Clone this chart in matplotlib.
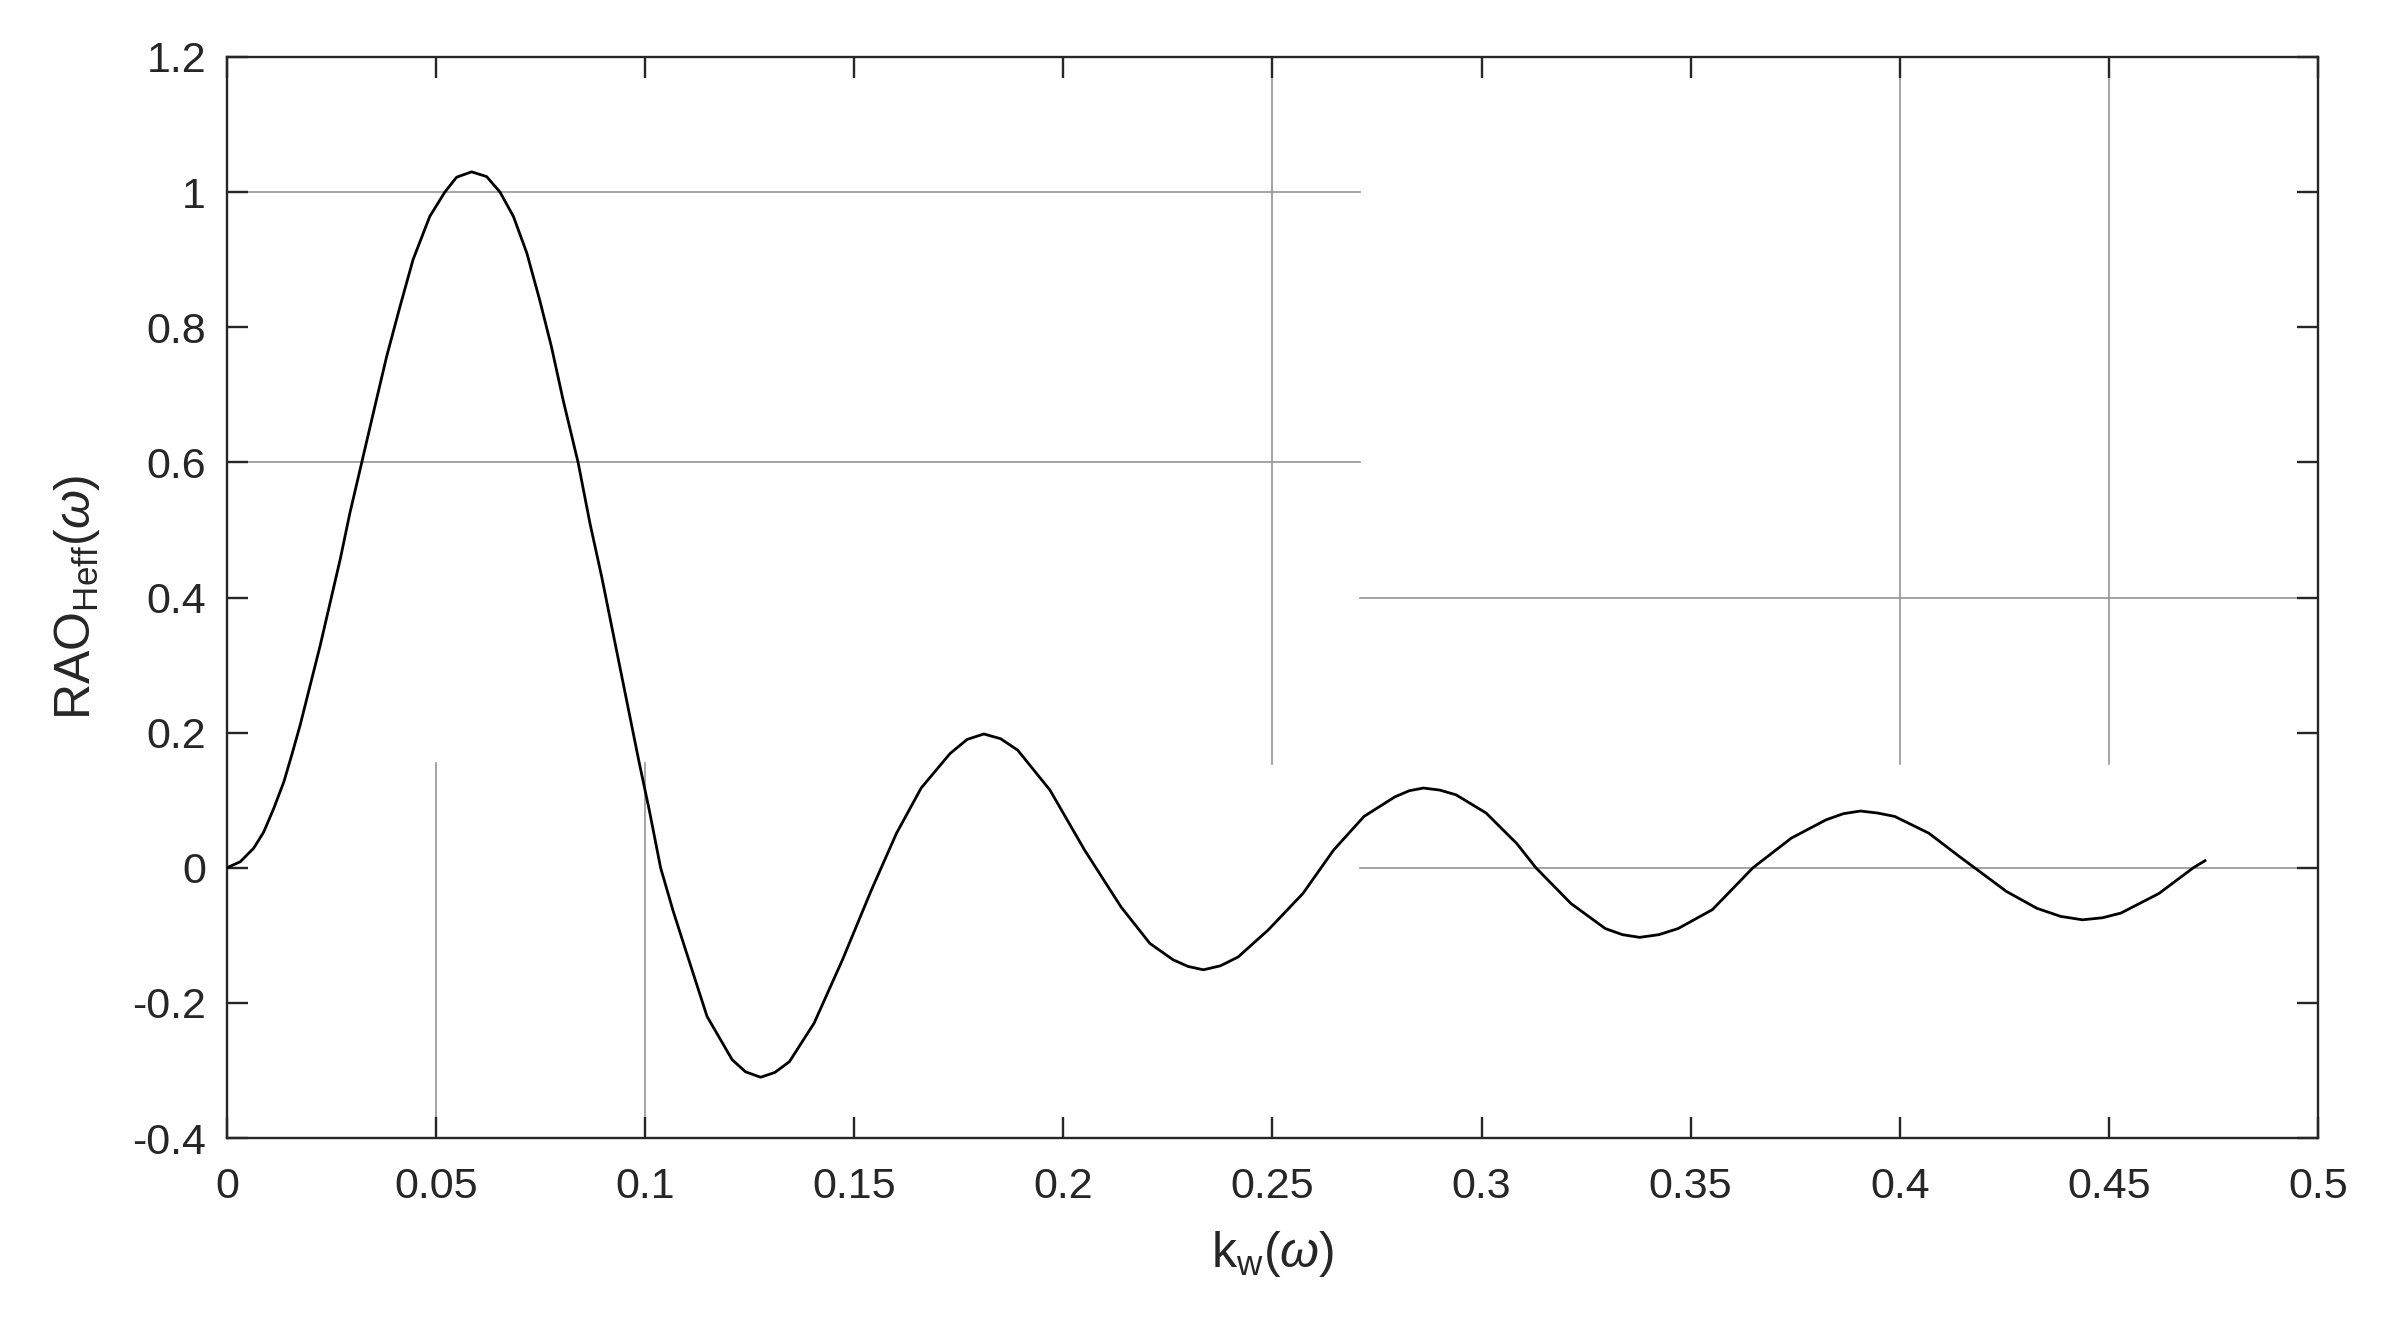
import numpy as np
import matplotlib.pyplot as plt

plt.rcParams['font.family'] = ['Liberation Sans', 'DejaVu Sans']
plt.rcParams['mathtext.fontset'] = 'custom'
plt.rcParams['mathtext.rm'] = 'Liberation Sans'
plt.rcParams['mathtext.it'] = 'Liberation Sans:italic'

# curve: k_w(omega) vs RAO_Heff(omega)
k_w = [0, 0.0032, 0.0064, 0.0088, 0.0112, 0.0136, 0.0155, 0.0175, 0.0199, 0.0223,
       0.0247, 0.0271, 0.0294, 0.0322, 0.0350, 0.0382, 0.0414, 0.0445, 0.0485, 0.0521,
       0.0549, 0.0585, 0.0621, 0.0653, 0.0685, 0.0717, 0.0748, 0.0776, 0.0804, 0.0840,
       0.0868, 0.0896, 0.0925, 0.0955, 0.0985, 0.1010, 0.1037, 0.1067, 0.1097, 0.1148,
       0.1208, 0.124, 0.1276, 0.131, 0.1345, 0.1404, 0.1472, 0.1541, 0.1601, 0.1660,
       0.1729, 0.177, 0.1810, 0.185, 0.1891, 0.1968, 0.2051, 0.2138, 0.2207, 0.2262,
       0.2298, 0.2335, 0.2376, 0.2418, 0.2490, 0.2573, 0.2646, 0.2719, 0.2793, 0.2827,
       0.2861, 0.290, 0.2939, 0.3011, 0.3084, 0.3130, 0.3214, 0.3296, 0.3337, 0.3378,
       0.3424, 0.3470, 0.3552, 0.3649, 0.3741, 0.3824, 0.3865, 0.3906, 0.3947, 0.3988,
       0.4070, 0.4144, 0.4179, 0.4255, 0.4328, 0.4385, 0.4437, 0.4485, 0.4529, 0.4620,
       0.4702, 0.4730]
rao = [0, 0.009, 0.029, 0.053, 0.088, 0.127, 0.167, 0.211, 0.270, 0.329,
       0.393, 0.457, 0.525, 0.599, 0.673, 0.757, 0.831, 0.900, 0.964, 1.0,
       1.022, 1.030, 1.023, 1.0, 0.964, 0.910, 0.840, 0.771, 0.692, 0.599,
       0.510, 0.431, 0.342, 0.250, 0.158, 0.085, 0.0, -0.064, -0.122, -0.220,
       -0.284, -0.302, -0.310, -0.303, -0.287, -0.230, -0.136, -0.033, 0.051, 0.118,
       0.169, 0.190, 0.198, 0.191, 0.174, 0.115, 0.026, -0.058, -0.112, -0.136,
       -0.146, -0.151, -0.145, -0.132, -0.092, -0.038, 0.026, 0.076, 0.105, 0.114,
       0.118, 0.115, 0.108, 0.081, 0.036, 0.0, -0.053, -0.090, -0.099, -0.103,
       -0.099, -0.090, -0.062, 0.0, 0.044, 0.071, 0.080, 0.084, 0.081, 0.076,
       0.051, 0.016, 0.0, -0.035, -0.060, -0.072, -0.077, -0.074, -0.067, -0.038,
       0.0, 0.0105]

# leftover grid pieces visible in the picture
h_grid = [(1.0, 0, 0.271), (0.6, 0, 0.271), (0.4, 0.271, 0.5), (0.0, 0.271, 0.5)]
v_grid = [(0.05, -0.4, 0.155), (0.1, -0.4, 0.155), (0.25, 0.153, 1.2),
          (0.4, 0.153, 1.2), (0.45, 0.153, 1.2)]

fig = plt.figure(figsize=(24.04, 13.19), dpi=100)
ax = fig.add_axes([0.0944, 0.1372, 0.8698, 0.8196])

for y, x1, x2 in h_grid:
    ax.plot([x1, x2], [y, y], color='#959595', lw=1.2, zorder=1)
for x, y1, y2 in v_grid:
    ax.plot([x, x], [y1, y2], color='#959595', lw=1.2, zorder=1)

ax.plot(k_w, rao, color='black', lw=2.0, zorder=3)

ax.set_xlim(0, 0.5)
ax.set_ylim(-0.4, 1.2)
ax.set_xticks(np.arange(0, 0.51, 0.05))
ax.set_xticklabels(['0', '0.05', '0.1', '0.15', '0.2', '0.25', '0.3', '0.35', '0.4', '0.45', '0.5'])
ax.set_yticks(np.arange(-0.4, 1.21, 0.2))
ax.set_yticklabels(['-0.4', '-0.2', '0', '0.2', '0.4', '0.6', '0.8', '1', '1.2'])

ax.tick_params(direction='in', length=15, width=1.7, colors='#262626',
               labelsize=31, top=True, right=True)
ax.tick_params(axis='x', pad=21)
ax.tick_params(axis='y', pad=15)
for s in ax.spines.values():
    s.set_linewidth(1.7)
    s.set_color('#262626')

ax.set_xlabel(r'k$_{\rm w}$($\it{\omega}$)', fontsize=36, color='#262626', labelpad=16)
ax.set_ylabel(r'RAO$_{\rm Heff}$($\it{\omega}$)', fontsize=36, color='#262626', labelpad=22)

fig.savefig('out.png', dpi=100)
